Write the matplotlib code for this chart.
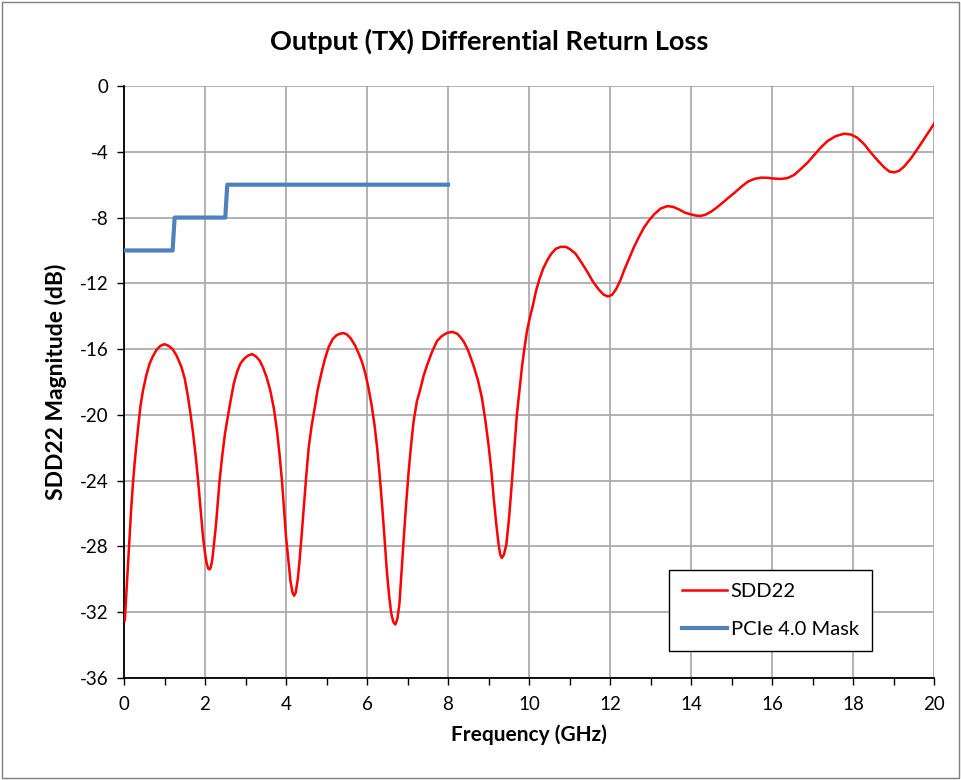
import matplotlib.pyplot as plt
from matplotlib.patches import Rectangle

plt.rcParams['font.family'] = ['Lato', 'DejaVu Sans']
plt.rcParams['axes.unicode_minus'] = False

# SDD22 (GHz, dB)
freq = [0.02, 0.06, 0.10, 0.14, 0.18, 0.22, 0.26, 0.31, 0.36, 0.41, 0.47, 0.55,
        0.63, 0.70, 0.80, 0.90, 1.00, 1.10, 1.20, 1.30, 1.42, 1.50, 1.58, 1.64,
        1.70, 1.77, 1.83, 1.89, 1.95, 2.00, 2.04, 2.08, 2.11, 2.14, 2.18, 2.22,
        2.27, 2.32, 2.36, 2.42, 2.49, 2.55, 2.62, 2.71, 2.79, 2.87, 2.96, 3.06,
        3.16, 3.26, 3.35, 3.43, 3.52, 3.61, 3.70, 3.78, 3.84, 3.90, 3.95, 4.00,
        4.06, 4.11, 4.16, 4.20, 4.24, 4.29, 4.33, 4.39, 4.44, 4.50, 4.56, 4.63,
        4.70, 4.78, 4.87, 4.96, 5.05, 5.15, 5.25, 5.35, 5.42, 5.50, 5.60, 5.71,
        5.80, 5.88, 5.96, 6.04, 6.12, 6.19, 6.25, 6.31, 6.37, 6.43, 6.49, 6.55,
        6.60, 6.65, 6.70, 6.75, 6.80, 6.85, 6.91, 6.97, 7.03, 7.09, 7.15, 7.23,
        7.32, 7.40, 7.48, 7.60, 7.73, 7.85, 7.97, 8.10, 8.22, 8.30, 8.39, 8.50,
        8.63, 8.74, 8.84, 8.92, 9.00, 9.07, 9.13, 9.19, 9.25, 9.29, 9.33, 9.38,
        9.44, 9.51, 9.58, 9.64, 9.70, 9.77, 9.83, 9.89, 9.95, 10.02, 10.10, 10.17,
        10.25, 10.35, 10.45, 10.55, 10.66, 10.78, 10.91, 11.03, 11.15, 11.30, 11.44, 11.58,
        11.73, 11.85, 11.95, 12.05, 12.14, 12.25, 12.35, 12.47, 12.59, 12.72, 12.84, 12.97,
        13.09, 13.25, 13.42, 13.56, 13.70, 13.85, 13.99, 14.12, 14.24, 14.36, 14.49, 14.63,
        14.78, 14.92, 15.07, 15.23, 15.40, 15.56, 15.73, 15.90, 16.06, 16.22, 16.38, 16.55,
        16.71, 16.88, 17.04, 17.20, 17.37, 17.57, 17.78, 17.95, 18.11, 18.28, 18.44, 18.60,
        18.77, 18.90, 19.02, 19.14, 19.26, 19.43, 19.60, 19.80, 20.00]
sdd22 = [-32.5, -30.8, -29.1, -27.3, -25.6, -24.2, -23.0, -21.7, -20.5, -19.4, -18.5, -17.6,
         -16.9, -16.5, -16.05, -15.8, -15.7, -15.8, -16.0, -16.4, -17.1, -17.8, -18.9, -19.9,
         -21.0, -22.5, -24.0, -25.7, -27.4, -28.4, -29.0, -29.35, -29.4, -29.3, -28.8, -27.9,
         -26.7, -25.2, -24.0, -22.6, -21.2, -20.3, -19.3, -18.1, -17.4, -16.9, -16.6, -16.4,
         -16.3, -16.45, -16.7, -17.1, -17.7, -18.5, -19.6, -21.0, -22.4, -24.0, -25.7, -27.4,
         -28.9, -30.1, -30.8, -31.0, -30.8, -30.0, -29.0, -27.2, -25.6, -23.7, -22.0, -20.7,
         -19.7, -18.5, -17.5, -16.6, -15.9, -15.4, -15.15, -15.05, -15.03, -15.1, -15.35, -15.8,
         -16.3, -16.8, -17.5, -18.4, -19.5, -20.7, -22.0, -23.6, -25.4, -27.4, -29.5, -31.1,
         -32.1, -32.6, -32.75, -32.4, -31.5, -29.6, -27.4, -25.3, -23.4, -21.8, -20.4, -19.2,
         -18.4, -17.6, -17.0, -16.2, -15.5, -15.2, -15.02, -14.95, -15.05, -15.25, -15.55, -16.1,
         -17.0, -17.9, -19.0, -20.3, -21.8, -23.4, -25.1, -26.6, -27.9, -28.5, -28.7, -28.5,
         -27.9, -26.2, -24.0, -22.0, -20.0, -18.4, -17.0, -15.9, -14.9, -14.1, -13.3, -12.5,
         -11.8, -11.1, -10.6, -10.2, -9.9, -9.78, -9.78, -9.95, -10.2, -10.75, -11.3, -11.9,
         -12.4, -12.7, -12.8, -12.7, -12.4, -11.85, -11.2, -10.5, -9.8, -9.15, -8.6, -8.15,
         -7.8, -7.45, -7.3, -7.35, -7.5, -7.7, -7.8, -7.88, -7.9, -7.82, -7.65, -7.4,
         -7.1, -6.8, -6.5, -6.15, -5.82, -5.65, -5.57, -5.58, -5.63, -5.65, -5.6, -5.4,
         -5.05, -4.65, -4.2, -3.75, -3.35, -3.05, -2.9, -2.95, -3.15, -3.55, -4.05, -4.5,
         -4.95, -5.2, -5.25, -5.15, -4.9, -4.4, -3.8, -3.05, -2.3]

# PCIe 4.0 mask
mask_f = [0, 1.2, 1.25, 2.5, 2.55, 8.0]
mask_db = [-10, -10, -8, -8, -6, -6]

xticks = list(range(0, 21, 2))
xminor = list(range(1, 20, 2))
yticks = list(range(-36, 1, 4))

fig = plt.figure(figsize=(9.62, 7.8), dpi=100)
ax = fig.add_axes([0.1289, 0.1308, 0.8420, 0.7589])

ax.plot(freq, sdd22, color='#FF0000', linewidth=1.8, label='SDD22', zorder=3)
ax.plot(mask_f, mask_db, color='#4F81BD', linewidth=3.0, label='PCIe 4.0 Mask', zorder=3)

ax.set_xlim(0, 20)
ax.set_ylim(-36, 0)
ax.set_xticks(xticks)
ax.set_xticks(xminor, minor=True)
ax.set_yticks(yticks)
ax.grid(True, which='major', color='#A6A6A6', linewidth=1.2)
ax.set_axisbelow(True)
ax.tick_params(which='both', labelsize=13.5, direction='out', length=5, width=1, colors='black')
ax.tick_params(axis='x', pad=8)
ax.tick_params(axis='y', pad=6)

for side in ['top', 'right']:
    ax.spines[side].set_visible(False)
ax.spines['left'].set_linewidth(1.3)
ax.spines['bottom'].set_linewidth(1.3)

ax.set_xlabel('Frequency (GHz)', fontsize=15, fontweight='bold', labelpad=8)
ax.set_ylabel('SDD22 Magnitude (dB)', fontsize=16.5, fontweight='bold', labelpad=9)
fig.text(0.509, 0.947, 'Output (TX) Differential Return Loss', fontsize=19.5,
         fontweight='bold', ha='center', va='center')

leg = ax.legend(loc='upper left', bbox_to_anchor=(0.673, 0.182), borderaxespad=0,
                fontsize=14.5, frameon=True, fancybox=False, edgecolor='black',
                framealpha=1, handlelength=2.2, handletextpad=0.2, borderpad=0.65,
                labelspacing=1.0)
leg.get_frame().set_linewidth(1.0)

fig.patches.append(Rectangle((0.002, 0.003), 0.995, 0.994, transform=fig.transFigure,
                             fill=False, edgecolor='#7F7F7F', linewidth=1.0))

fig.savefig('out.png', dpi=100)
